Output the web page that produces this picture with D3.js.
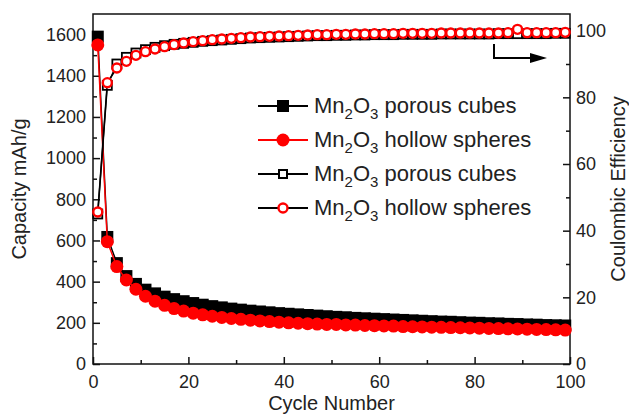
<!DOCTYPE html>
<html>
<head>
<meta charset="utf-8">
<script src="https://d3js.org/d3.v7.min.js"></script>
<style>
body { margin: 0; background: #fff; }
text { font-family: Arial, "Liberation Sans", sans-serif; fill: #222; }
.tick text { font-size: 18px; }
</style>
</head>
<body>
<svg id="chart" width="629" height="415"></svg>
<script>
// data (odd cycles 1..99)
var cycles = d3.range(1, 100, 2);

var capCubes = [1590, 617, 490, 427, 389, 361, 343, 327, 315, 305,
                296, 288, 281, 275, 269, 264, 259, 255, 251, 247,
                244, 241, 238, 235, 232, 229, 227, 224, 222, 220,
                218, 216, 214, 212, 210, 208, 206, 205, 203, 201,
                200, 198, 197, 195, 194, 192, 191, 189, 188, 187];

var capSpheres = [1550, 594, 473, 408, 363, 329, 305, 285, 269, 257,
                  247, 239, 232, 226, 221, 217, 213, 209, 206, 203,
                  200, 198, 196, 194, 192, 192, 190, 189, 187, 186,
                  185, 184, 182, 181, 180, 179, 178, 177, 176, 175,
                  174, 173, 172, 171, 170, 169, 168, 167, 166, 165];

var ceCubes = [45.0, 83.6, 90.0, 92.0, 93.3, 94.3, 95.0, 95.5, 95.9, 96.2,
               96.5, 96.8, 97.0, 97.2, 97.4, 97.6, 97.8, 97.9, 98.0, 98.1,
               98.2, 98.3, 98.4, 98.5, 98.5, 98.6, 98.6, 98.7, 98.7, 98.8,
               98.8, 98.8, 98.9, 98.9, 98.9, 98.9, 99.0, 99.0, 99.0, 99.0,
               99.0, 99.0, 99.1, 99.1, 99.1, 99.1, 99.1, 99.1, 99.2, 99.2];

var ceSpheres = [45.6, 84.4, 88.8, 90.8, 92.6, 93.7, 94.5, 95.2, 95.8, 96.3,
                 96.7, 97.0, 97.3, 97.5, 97.7, 97.9, 98.1, 98.2, 98.3, 98.4,
                 98.5, 98.6, 98.7, 98.8, 98.8, 98.9, 98.9, 99.0, 99.0, 99.1,
                 99.1, 99.1, 99.2, 99.2, 99.2, 99.2, 99.3, 99.3, 99.3, 99.3,
                 99.3, 99.3, 99.3, 99.4, 100.4, 99.4, 99.4, 99.4, 99.4, 99.5];

var xTicks = [0, 20, 40, 60, 80, 100];
var yTicks = [0, 200, 400, 600, 800, 1000, 1200, 1400, 1600];
var y2Ticks = [0, 20, 40, 60, 80, 100];
var legendNames = ["porous cubes", "hollow spheres", "porous cubes", "hollow spheres"];

var mLeft = 93, mRight = 570, mTop = 14, mBottom = 364;
var red = "#ff0000";

var x = d3.scaleLinear().domain([0, 100]).range([mLeft, mRight]);
var y = d3.scaleLinear().domain([0, 1700]).range([mBottom, mTop]);
var y2 = d3.scaleLinear().domain([0, 105]).range([mBottom, mTop]);

var svg = d3.select("#chart");

// axes with inward ticks
function style(g) {
  g.select(".domain").remove();
  g.selectAll("line").attr("stroke", "#111").attr("stroke-width", 1.5);
}
svg.append("g").attr("transform", "translate(0," + mBottom + ")")
   .call(d3.axisBottom(x).tickValues(xTicks).tickSize(-7).tickPadding(11)).call(style);
svg.append("g").attr("transform", "translate(0," + mBottom + ")")
   .call(d3.axisBottom(x).tickValues([10, 30, 50, 70, 90]).tickSize(-4).tickFormat("")).call(style);
svg.append("g").attr("transform", "translate(" + mLeft + ",0)")
   .call(d3.axisLeft(y).tickValues(yTicks).tickSize(-7).tickPadding(7).tickFormat(d3.format("d"))).call(style);
svg.append("g").attr("transform", "translate(" + mLeft + ",0)")
   .call(d3.axisLeft(y).tickValues(d3.range(100, 1700, 200)).tickSize(-4).tickFormat("")).call(style);
svg.append("g").attr("transform", "translate(" + mRight + ",0)")
   .call(d3.axisRight(y2).tickValues(y2Ticks).tickSize(-7).tickPadding(6)).call(style);
svg.append("g").attr("transform", "translate(" + mRight + ",0)")
   .call(d3.axisRight(y2).tickValues([10, 30, 50, 70, 90]).tickSize(-4).tickFormat("")).call(style);

svg.append("rect").attr("x", mLeft).attr("y", mTop)
   .attr("width", mRight - mLeft).attr("height", mBottom - mTop)
   .attr("fill", "none").attr("stroke", "#111").attr("stroke-width", 1.5);

// axis titles
svg.append("text").attr("x", (mLeft + mRight) / 2).attr("y", 410)
   .attr("text-anchor", "middle").style("font-size", "20px").text("Cycle Number");
svg.append("text").attr("transform", "translate(26," + (mTop + mBottom) / 2 + ") rotate(-90)")
   .attr("text-anchor", "middle").style("font-size", "20px").text("Capacity mAh/g");
svg.append("text").attr("transform", "translate(625," + (mTop + mBottom) / 2 + ") rotate(-90)")
   .attr("text-anchor", "middle").style("font-size", "20px").text("Coulombic Efficiency");

function series(vals, ys, lineColor) {
  var pts = cycles.map(function(c, i) { return [x(c), ys(vals[i])]; });
  svg.append("path").attr("d", d3.line()(pts))
     .attr("fill", "none").attr("stroke", lineColor).attr("stroke-width", 1.5);
  return pts;
}
function squares(pts, s, fill, stroke, sw) {
  svg.append("g").selectAll("rect").data(pts).enter().append("rect")
     .attr("x", function(d) { return d[0] - s / 2; })
     .attr("y", function(d) { return d[1] - s / 2; })
     .attr("width", s).attr("height", s)
     .attr("fill", fill).attr("stroke", stroke).attr("stroke-width", sw);
}
function circles(pts, r, fill, stroke, sw) {
  svg.append("g").selectAll("circle").data(pts).enter().append("circle")
     .attr("cx", function(d) { return d[0]; })
     .attr("cy", function(d) { return d[1]; })
     .attr("r", r).attr("fill", fill).attr("stroke", stroke).attr("stroke-width", sw);
}

var p1 = series(capCubes, y, "#000");
squares(p1, 12, "#000", "none", 0);
var p2 = series(capSpheres, y, red);
circles(p2, 6.5, red, "none", 0);
var p3 = series(ceCubes, y2, "#000");
squares(p3, 9, "#fff", "#000", 1.8);
var p4 = series(ceSpheres, y2, "#000");
circles(p4, 4.5, "#fff", red, 2.4);

// arrow pointing to right axis
svg.append("path").attr("d", "M494,44 L494,58 L532,58")
   .attr("fill", "none").attr("stroke", "#000").attr("stroke-width", 2);
svg.append("path").attr("d", "M530,53 L547,58 L530,63 Z").attr("fill", "#000");

// legend
var lg = svg.append("g");
legendNames.forEach(function(name, i) {
  var cy = 106 + i * 34;
  lg.append("line").attr("x1", 258).attr("x2", 308).attr("y1", cy).attr("y2", cy)
    .attr("stroke", i == 1 ? red : "#000").attr("stroke-width", 2);
  if (i == 0) lg.append("rect").attr("x", 277).attr("y", cy - 6).attr("width", 12).attr("height", 12).attr("fill", "#000");
  if (i == 1) lg.append("circle").attr("cx", 283).attr("cy", cy).attr("r", 6.5).attr("fill", red);
  if (i == 2) lg.append("rect").attr("x", 279).attr("y", cy - 4).attr("width", 8).attr("height", 8).attr("fill", "#fff").attr("stroke", "#000").attr("stroke-width", 2);
  if (i == 3) lg.append("circle").attr("cx", 283).attr("cy", cy).attr("r", 4.5).attr("fill", "#fff").attr("stroke", red).attr("stroke-width", 2.4);
  var t = lg.append("text").attr("x", 314).attr("y", cy + 7).style("font-size", "22px");
  t.append("tspan").text("Mn");
  t.append("tspan").attr("dy", 6).style("font-size", "15px").text("2");
  t.append("tspan").attr("dy", -6).text("O");
  t.append("tspan").attr("dy", 6).style("font-size", "15px").text("3");
  t.append("tspan").attr("dy", -6).text(" " + name);
});
</script>
</body>
</html>
